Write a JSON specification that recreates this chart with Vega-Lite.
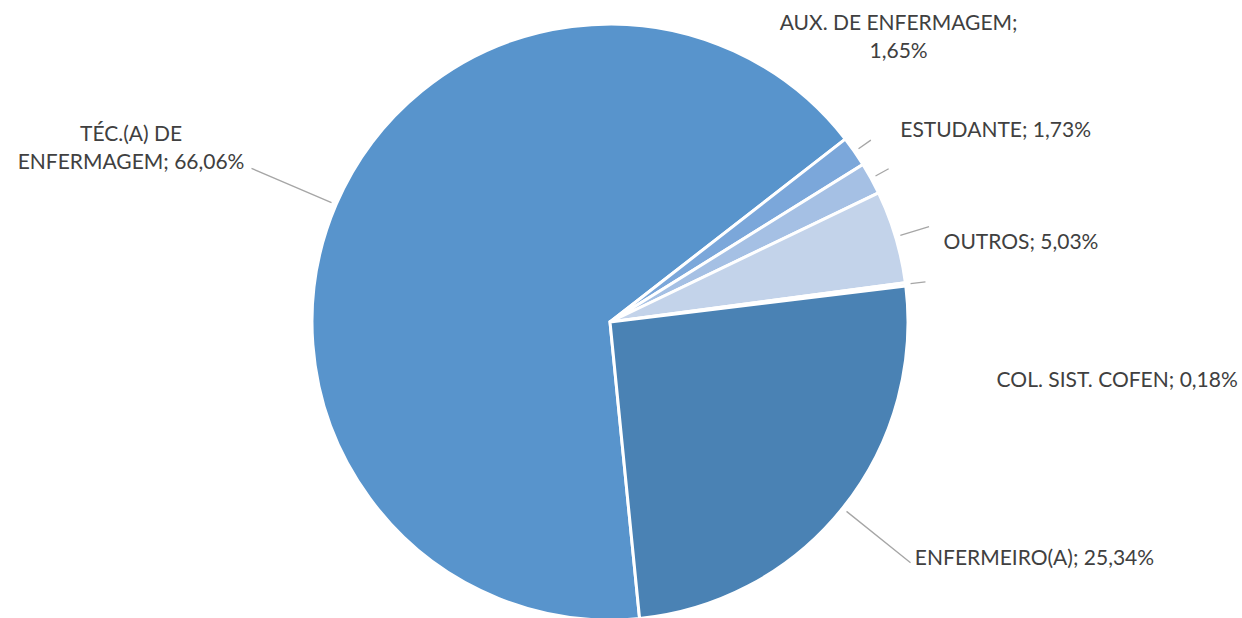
{
  "$schema": "https://vega.github.io/schema/vega-lite/v6.json",
  "width": 1220,
  "height": 592,
  "autosize": {"type": "none"},
  "padding": {"left": 0, "top": 26, "right": 22, "bottom": 0},
  "background": "white",
  "view": {"stroke": null},
  "resolve": {"scale": {"theta": "independent"}},
  "data": {"values": [
    {"cat": "TÉC.(A) DE ENFERMAGEM", "label": "TÉC.(A) DE\nENFERMAGEM; 66,06%", "value": 66.06, "ord": 1},
    {"cat": "AUX. DE ENFERMAGEM", "label": "AUX. DE ENFERMAGEM;\n1,65%", "value": 1.65, "ord": 2},
    {"cat": "ESTUDANTE", "label": "ESTUDANTE; 1,73%", "value": 1.73, "ord": 3},
    {"cat": "OUTROS", "label": "OUTROS; 5,03%", "value": 5.03, "ord": 4},
    {"cat": "COL. SIST. COFEN", "label": "COL. SIST. COFEN; 0,18%", "value": 0.18, "ord": 5},
    {"cat": "ENFERMEIRO(A)", "label": "ENFERMEIRO(A); 25,34%", "value": 25.34, "ord": 6}
  ]},
  "encoding": {
    "theta": {"field": "value", "type": "quantitative", "stack": true, "scale": {"range": [3.0421, 9.3253]}},
    "order": {"field": "ord", "type": "quantitative"},
    "detail": {"field": "cat", "type": "nominal"}
  },
  "layer": [
    {
      "mark": {"type": "arc", "outerRadius": 298, "stroke": "white", "strokeWidth": 3},
      "encoding": {
        "color": {"field": "cat", "type": "nominal", "legend": null,
          "scale": {"domain": ["TÉC.(A) DE ENFERMAGEM", "AUX. DE ENFERMAGEM", "ESTUDANTE", "OUTROS", "COL. SIST. COFEN", "ENFERMEIRO(A)"],
                    "range": ["#5894CC", "#7BA7DA", "#A5C0E4", "#C3D3EA", "#DAE4F2", "#4A82B4"]}}
      }
    },
    {"mark": {"type": "arc", "innerRadius": 303, "outerRadius": 390, "padAngle": 3, "fill": "transparent", "stroke": "#A6A6A6", "strokeWidth": 1.3},
     "encoding": {
       "theta": {"field": "value", "type": "quantitative", "stack": true, "scale": {"range": [4.0795, 7.2211]}},
       "strokeOpacity": {"condition": {"test": "datum.ord === 1", "value": 1}, "value": 0}}},
    {"mark": {"type": "arc", "innerRadius": 303, "outerRadius": 318, "padAngle": 3, "fill": "transparent", "stroke": "#A6A6A6", "strokeWidth": 1.3},
     "encoding": {"strokeOpacity": {"condition": {"test": "datum.ord === 2 || datum.ord === 3 || datum.ord === 5", "value": 1}, "value": 0}}},
    {"mark": {"type": "arc", "innerRadius": 303, "outerRadius": 333, "padAngle": 3, "fill": "transparent", "stroke": "#A6A6A6", "strokeWidth": 1.3},
     "encoding": {"strokeOpacity": {"condition": {"test": "datum.ord === 4", "value": 1}, "value": 0}}},
    {"mark": {"type": "arc", "innerRadius": 303, "outerRadius": 385, "padAngle": 3, "fill": "transparent", "stroke": "#A6A6A6", "strokeWidth": 1.3},
     "encoding": {"strokeOpacity": {"condition": {"test": "datum.ord === 6", "value": 1}, "value": 0}}},
    {"mark": {"type": "text", "radius": 297, "align": "center", "baseline": "middle", "dx": -206, "dy": -70, "lineBreak": "\n", "lineHeight": 28, "font": "Lato", "fontSize": 21, "fill": "#404040"},
     "encoding": {"text": {"condition": {"test": "datum.ord === 1", "field": "label", "type": "nominal"}, "value": ""}}},
    {"mark": {"type": "text", "radius": 297, "align": "center", "baseline": "middle", "dx": 45, "dy": -128, "lineBreak": "\n", "lineHeight": 28, "font": "Lato", "fontSize": 21, "fill": "#404040"},
     "encoding": {"text": {"condition": {"test": "datum.ord === 2", "field": "label", "type": "nominal"}, "value": ""}}},
    {"mark": {"type": "text", "radius": 297, "align": "left", "baseline": "middle", "dx": 30, "dy": -48, "font": "Lato", "fontSize": 21, "fill": "#404040"},
     "encoding": {"text": {"condition": {"test": "datum.ord === 3", "field": "label", "type": "nominal"}, "value": ""}}},
    {"mark": {"type": "text", "radius": 297, "align": "left", "baseline": "middle", "dx": 49, "dy": 6, "font": "Lato", "fontSize": 21, "fill": "#404040"},
     "encoding": {"text": {"condition": {"test": "datum.ord === 4", "field": "label", "type": "nominal"}, "value": ""}}},
    {"mark": {"type": "text", "radius": 297, "align": "left", "baseline": "middle", "dx": 92, "dy": 97, "font": "Lato", "fontSize": 21, "fill": "#404040"},
     "encoding": {"text": {"condition": {"test": "datum.ord === 5", "field": "label", "type": "nominal"}, "value": ""}}},
    {"mark": {"type": "text", "radius": 297, "align": "left", "baseline": "middle", "dx": 73, "dy": 51, "font": "Lato", "fontSize": 21, "fill": "#404040"},
     "encoding": {"text": {"condition": {"test": "datum.ord === 6", "field": "label", "type": "nominal"}, "value": ""}}}
  ]
}
